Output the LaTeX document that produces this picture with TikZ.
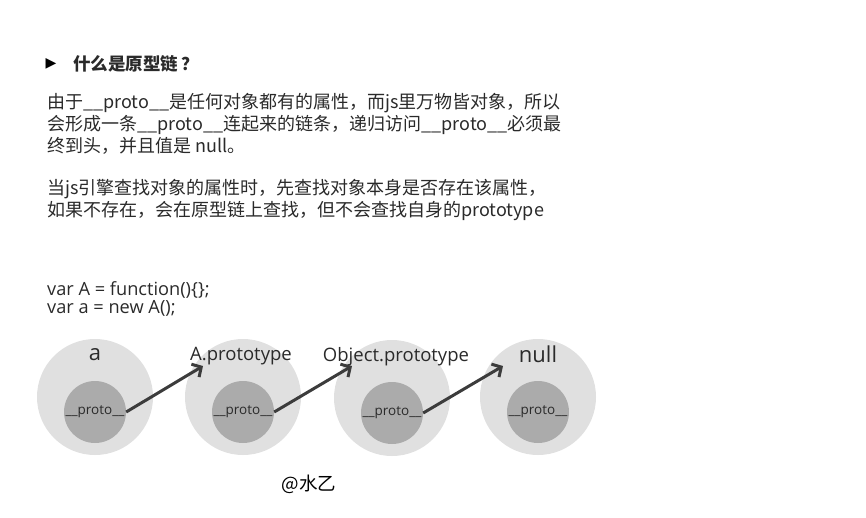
\documentclass[tikz,border=0pt]{standalone}
\usepackage{fontspec}
\setmainfont{Open Sans}
\newfontfamily\cjk{Noto Sans CJK SC}
\newfontfamily\symfont{DejaVu Sans}
\usetikzlibrary{arrows.meta}
\definecolor{txt}{HTML}{2A2A2A}
\definecolor{outerc}{HTML}{E0E0E0}
\definecolor{innerc}{HTML}{ABABAB}
\definecolor{arrowc}{HTML}{3C3C3C}
\tikzset{
  para/.style={anchor=west, inner sep=0pt, text=txt, font=\cjk\fontsize{18}{21}\selectfont},
  codeline/.style={anchor=west, inner sep=0pt, text=txt, font=\fontsize{18.2}{18}\selectfont},
  outercirc/.style={circle, fill=outerc, minimum size=116pt, inner sep=0pt},
  innercirc/.style={circle, fill=innerc, minimum size=62pt, inner sep=0pt, text=txt, font=\fontsize{13.5}{15}\selectfont},
  biglabel/.style={inner sep=0pt, text=txt, font=\fontsize{22}{24}\selectfont},
  midlabel/.style={inner sep=0pt, text=txt, font=\fontsize{18.5}{20}\selectfont},
  chain/.style={draw=arrowc, line width=3pt, -{Straight Barb[length=7pt,width=15pt,line width=3pt]}}
}
\begin{document}
\begin{tikzpicture}[x=1pt,y=-1pt]
\useasboundingbox (0,0) rectangle (866,517);
% title
\node[inner sep=0pt, text=black, font=\symfont\fontsize{14}{16}\selectfont] (bullet) at (51,64) {▶};
\node[anchor=west, inner sep=0pt, text=txt, font=\cjk\bfseries\fontsize{17.5}{19}\selectfont] (title) at (73,64) {什么是原型链\,？};
% paragraphs
\node[para] (l1) at (47,103) {由于\_\_proto\_\_是任何对象都有的属性，而js里万物皆对象，所以};
\node[para] (l2) at (47,125) {会形成一条\_\_proto\_\_连起来的链条，递归访问\_\_proto\_\_必须最};
\node[para] (l3) at (47,146) {终到头，并且值是 null。};
\node[para] (l4) at (47,189) {当js引擎查找对象的属性时，先查找对象本身是否存在该属性，};
\node[para] (l5) at (47,211) {如果不存在，会在原型链上查找，但不会查找自身的prototype};
% code
\node[codeline] (c1) at (47,289.5) {var A = function()\{\};};
\node[codeline] (c2) at (47,308) {var a = new A();};
% circles
\node[outercirc] (o1) at (95,397) {};
\node[outercirc] (o2) at (243,397) {};
\node[outercirc] (o3) at (392,398) {};
\node[outercirc] (o4) at (538,397) {};
\node[innercirc] (p1) at (95,412) {\_\_proto\_\_};
\node[innercirc] (p2) at (243,412) {\_\_proto\_\_};
\node[innercirc] (p3) at (392,413) {\_\_proto\_\_};
\node[innercirc] (p4) at (538,412) {\_\_proto\_\_};
\node[biglabel] (n1) at (95,355) {a};
\node[midlabel] (n2) at (241,356) {A.prototype};
\node[midlabel] (n3) at (396,357) {Object.prototype};
\node[biglabel] (n4) at (538,354) {null};
\coordinate (t1) at (203,366);
\coordinate (t2) at (352,366);
\coordinate (t3) at (503,366);
\draw[chain] (p1.east) -- (t1);
\draw[chain] (p2.east) -- (t2);
\draw[chain] (p3.east) -- (t3);
% watermark
\node[inner sep=0pt, text=black, font=\cjk\fontsize{18.5}{20}\selectfont] (wm) at (309,484) {@水乙};
\end{tikzpicture}
\end{document}
